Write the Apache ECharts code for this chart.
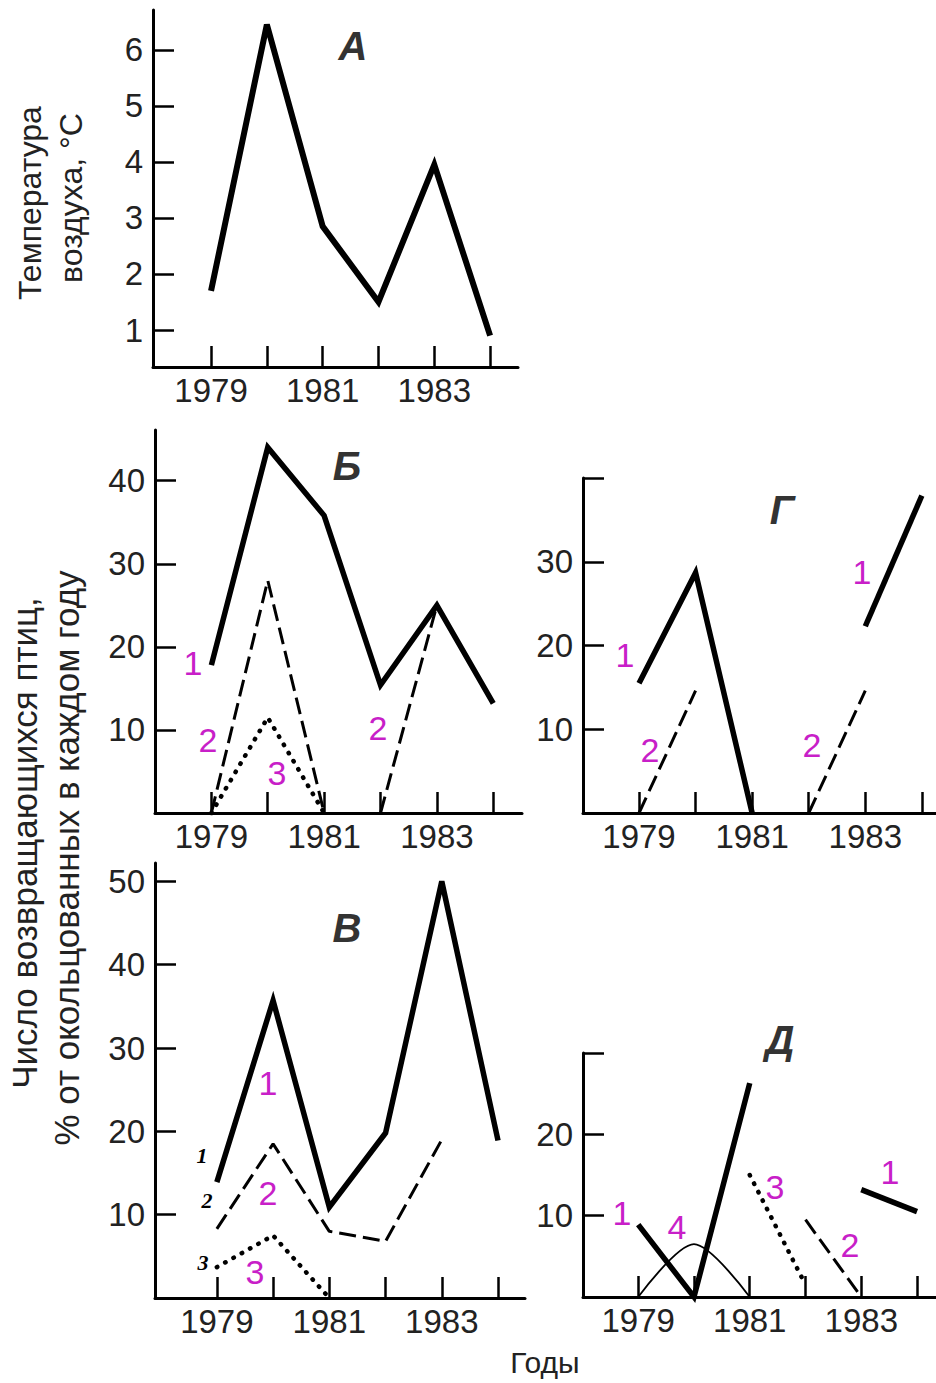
<!DOCTYPE html>
<html>
<head>
<meta charset="utf-8">
<script src="https://cdn.jsdelivr.net/npm/echarts@6/dist/echarts.min.js"></script>
<style>
html,body{margin:0;padding:0;background:#fff;}
#chart{width:936px;height:1383px;}
</style>
</head>
<body>
<div id="chart"></div>
<script>
// ---- data ----
const YEARS = [1979, 1980, 1981, 1982, 1983, 1984];
const YEAR_LABELS = [1979, 1981, 1983];

// Panel А: air temperature, °C
const tempA = [1.7, 6.45, 2.85, 1.5, 3.95, 0.9];

// Panel Б
const b1  = [17.8, 44, 35.8, 15.4, 25, 13.2];
const b2a = [0, 28, 0, null, null, null];
const b2b = [null, null, null, 0, 25, null];
const b3  = [0, 11.5, 0, null, null, null];

// Panel Г
const g1a = [15.5, 28.7, 0, null, null, null];
const g1b = [null, null, null, null, 22.3, 37.9];
const g2a = [0, 14.6, null, null, null, null];
const g2b = [null, null, null, 0, 14.6, null];

// Panel В
const v1 = [13.9, 35.7, 10.9, 19.8, 50, 18.9];
const v2 = [8.3, 18.5, 8, 6.8, 19, null];
const v3 = [3.7, 7.5, 0, null, null, null];

// Panel Д
const d1a = [8.9, 0, 26.3, null, null, null];
const d1b = [null, null, null, null, 13.2, 10.5];
const d2  = [null, null, null, 9.5, 0, null];
const d3  = [null, null, 15, 1.5, null, null];
const d4  = [0, 6.5, 0, null, null, null];

// y tick values
const ticksA = [1, 2, 3, 4, 5, 6];
const ticksB = [10, 20, 30, 40];
const ticksG = [10, 20, 30, 40];
const labelsG = [10, 20, 30];
const ticksV = [10, 20, 30, 40, 50];
const ticksD = [10, 20, 30];
const labelsD = [10, 20];

// ---- chart ----
const FONT = '"Liberation Sans", Arial, sans-serif';
const MAG = '#c81fc8';
const pairs = arr => YEARS.map((y, i) => [y, arr[i] == null ? null : arr[i]]);

const grids = [
  {left: 153, top: 10,  width: 518 - 153, height: 367 - 10},   // А
  {left: 155, top: 430, width: 522 - 155, height: 813 - 430},  // Б
  {left: 583, top: 478, width: 936 - 583, height: 813 - 478},  // Г
  {left: 155, top: 863, width: 525 - 155, height: 1298 - 863}, // В
  {left: 583, top: 1053, width: 936 - 583, height: 1297 - 1053} // Д
];

function xAx(gi, min, max) {
  return {
    type: 'value', gridIndex: gi, min: min, max: max,
    axisLine: {show: true, onZero: false, lineStyle: {color: '#000', width: 3}},
    axisTick: {show: true, inside: true, length: 21, customValues: YEARS, lineStyle: {color: '#000', width: 2.5}},
    axisLabel: {show: true, customValues: YEAR_LABELS, fontSize: 33, fontFamily: FONT, color: '#222', margin: 7,
      formatter: v => String(v)},
    splitLine: {show: false}
  };
}
function yAx(gi, min, max, ticks, labels) {
  return {
    type: 'value', gridIndex: gi, min: min, max: max,
    axisLine: {show: true, onZero: false, lineStyle: {color: '#000', width: 3}},
    axisTick: {show: true, inside: true, length: 21, customValues: ticks, lineStyle: {color: '#000', width: 2.5}},
    axisLabel: {show: true, customValues: labels, fontSize: 33, fontFamily: FONT, color: '#222', margin: 10,
      formatter: v => String(v)},
    splitLine: {show: false}
  };
}

function solid(gi, arr, w) {
  return {type: 'line', xAxisIndex: gi, yAxisIndex: gi, data: pairs(arr), symbol: 'none', clip: false,
    connectNulls: false, animation: false, silent: true,
    lineStyle: {color: '#000', width: w || 5.5, cap: 'butt', join: 'miter'}};
}
function dashed(gi, arr) {
  return {type: 'line', xAxisIndex: gi, yAxisIndex: gi, data: pairs(arr), symbol: 'none', clip: false,
    connectNulls: false, animation: false, silent: true,
    lineStyle: {color: '#000', width: 3, type: [17, 7], cap: 'butt'}};
}
function dotted(gi, arr) {
  return {type: 'line', xAxisIndex: gi, yAxisIndex: gi, data: pairs(arr), symbol: 'none', clip: false,
    connectNulls: false, animation: false, silent: true,
    lineStyle: {color: '#000', width: 4.5, type: [0.5, 9], cap: 'round'}};
}

function txt(x, y, text, font, fill, rot) {
  return {type: 'text', x: x, y: y, rotation: rot || 0, silent: true, z: 100,
    style: {text: text, font: font, fill: fill, align: 'center', verticalAlign: 'middle'}};
}
const magFont = '34px ' + FONT;
const letterFont = 'italic bold 40px ' + FONT;
const smallItal = 'italic bold 22px "Liberation Serif", serif';

const option = {
  backgroundColor: '#fff',
  animation: false,
  grid: grids,
  xAxis: [
    xAx(0, 1977.96, 1984.5),
    xAx(1, 1978.0, 1984.51),
    xAx(2, 1978.01, 1984.25),
    xAx(3, 1977.9, 1984.48),
    xAx(4, 1978.01, 1984.34)
  ],
  yAxis: [
    yAx(0, 0.34, 6.71, ticksA, ticksA),
    yAx(1, 0, 46.1, ticksB, ticksB),
    yAx(2, 0, 40, ticksG, labelsG),
    yAx(3, 0, 52.2, ticksV, ticksV),
    yAx(4, 0, 30, ticksD, labelsD)
  ],
  series: [
    solid(0, tempA, 6),
    solid(1, b1), dashed(1, b2a), dashed(1, b2b), dotted(1, b3),
    solid(2, g1a), solid(2, g1b), dashed(2, g2a), dashed(2, g2b),
    solid(3, v1), dashed(3, v2), dotted(3, v3),
    solid(4, d1a), solid(4, d1b), dashed(4, d2), dotted(4, d3),
    {type: 'line', xAxisIndex: 4, yAxisIndex: 4, data: pairs(d4), symbol: 'none', clip: false,
      smooth: 0.3, animation: false, silent: true, lineStyle: {color: '#000', width: 1.8}}
  ],
  graphic: [
    // panel letters
    txt(353, 46, 'А', letterFont, '#333'),
    txt(347, 466, 'Б', letterFont, '#333'),
    txt(782, 510, 'Г', letterFont, '#333'),
    txt(347, 928, 'В', letterFont, '#333'),
    txt(780, 1040, 'Д', letterFont, '#333'),
    // magenta curve numbers
    txt(193, 663, '1', magFont, MAG), txt(208, 740, '2', magFont, MAG),
    txt(277, 773, '3', magFont, MAG), txt(378, 728, '2', magFont, MAG),
    txt(625, 655, '1', magFont, MAG), txt(650, 750, '2', magFont, MAG),
    txt(862, 572, '1', magFont, MAG), txt(812, 745, '2', magFont, MAG),
    txt(268, 1083, '1', magFont, MAG), txt(268, 1193, '2', magFont, MAG),
    txt(255, 1272, '3', magFont, MAG),
    txt(622, 1213, '1', magFont, MAG), txt(677, 1227, '4', magFont, MAG),
    txt(775, 1187, '3', magFont, MAG), txt(850, 1245, '2', magFont, MAG),
    txt(890, 1172, '1', magFont, MAG),
    // small italic numbers in В
    txt(202, 1155, '1', smallItal, '#000'),
    txt(207, 1200, '2', smallItal, '#000'),
    txt(203, 1262, '3', smallItal, '#000'),
    // axis titles
    txt(30, 203, 'Температура', '32px ' + FONT, '#222', Math.PI / 2),
    txt(71, 198, 'воздуха, °С', '32px ' + FONT, '#222', Math.PI / 2),
    txt(24, 843, 'Число возвращающихся птиц,', '35px ' + FONT, '#222', Math.PI / 2),
    txt(66, 858, '% от окольцованных в каждом году', '35px ' + FONT, '#222', Math.PI / 2),
    txt(545, 1362, 'Годы', '30px ' + FONT, '#222')
  ]
};

const chart = echarts.init(document.getElementById('chart'), null, {renderer: 'svg', width: 936, height: 1383});
chart.setOption(option);
</script>
</body>
</html>
